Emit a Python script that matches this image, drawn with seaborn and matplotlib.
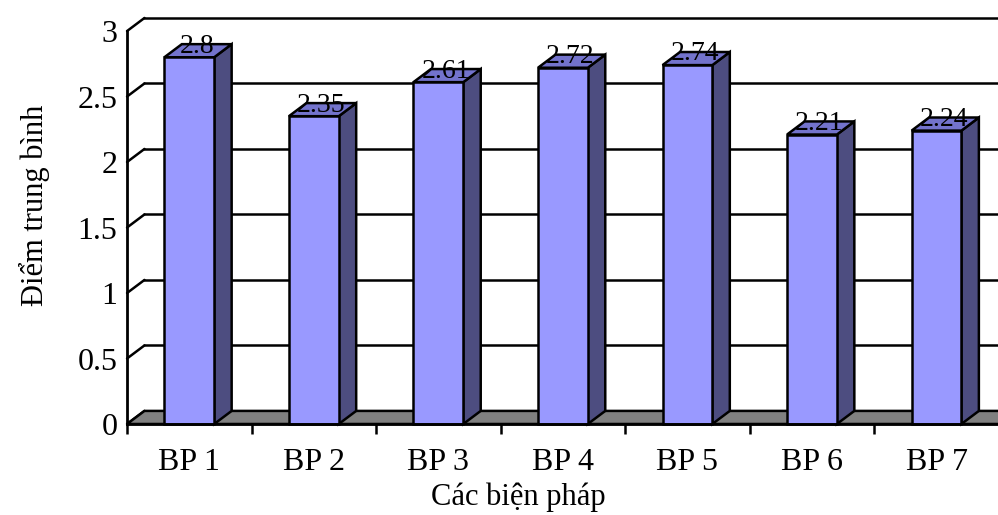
import matplotlib
matplotlib.use("Agg")
import matplotlib.pyplot as plt
from matplotlib.patches import Polygon
import seaborn as sns
import pandas as pd

categories = ["BP 1", "BP 2", "BP 3", "BP 4", "BP 5", "BP 6", "BP 7"]
values = [2.8, 2.35, 2.61, 2.72, 2.74, 2.21, 2.24]
y_ticks = [0, 0.5, 1, 1.5, 2, 2.5, 3]
y_tick_labels = ["0", "0.5", "1", "1.5", "2", "2.5", "3"]

sns.set_style("white")
plt.rcParams['font.family'] = ['Liberation Serif', 'DejaVu Serif']
plt.rcParams['text.color'] = 'black'
plt.rcParams['axes.labelcolor'] = 'black'
plt.rcParams['xtick.color'] = 'black'
plt.rcParams['ytick.color'] = 'black'

fig = plt.figure(figsize=(9.98, 5.15), dpi=100)
ax = fig.add_axes([0.1273, 0.1767, 0.8735, 0.763])

df = pd.DataFrame({"cat": categories, "val": values})

# depth offsets (data units)
dx = 0.14
dy = 0.1
bw = 0.4

ax.set_xlim(-0.5, 6.5)
ax.set_ylim(0, 3)

# back wall gridlines and side diagonals
x_left = -0.5
x_right = 7.2
for v in y_ticks:
    ax.plot([x_left + dx, x_right], [v + dy, v + dy], color='black', lw=1.8,
            clip_on=False, zorder=1)
    ax.plot([x_left, x_left + dx], [v, v + dy], color='black', lw=1.8,
            clip_on=False, zorder=1)

# floor
floor = Polygon([(x_left, 0), (x_left + dx, dy), (x_right, dy), (x_right, 0)],
                closed=True, facecolor='#808080', edgecolor='black', lw=1.8,
                clip_on=False, zorder=2)
ax.add_patch(floor)

sns.barplot(data=df, x="cat", y="val", color='#9999FF', edgecolor='black',
            linewidth=1.8, width=bw, saturation=1, ax=ax, zorder=4)
for p in ax.patches:
    if p is not floor:
        p.set_clip_on(False)

for i, v in enumerate(values):
    xl, xr = i - bw / 2, i + bw / 2
    side = Polygon([(xr, 0), (xr + dx, dy), (xr + dx, v + dy), (xr, v)],
                   closed=True, facecolor='#4D4D80', edgecolor='black', lw=1.8,
                   clip_on=False, zorder=3)
    top = Polygon([(xl, v), (xl + dx, v + dy), (xr + dx, v + dy), (xr, v)],
                  closed=True, facecolor='#7373CC', edgecolor='black', lw=1.8,
                  clip_on=False, zorder=3)
    ax.add_patch(side)
    ax.add_patch(top)
    ax.text(i + 0.06, v + 0.085, f"{v:g}", ha='center', va='center',
            fontsize=20, color='black', zorder=6, clip_on=False)

for s in ['top', 'right']:
    ax.spines[s].set_visible(False)
for s in ['left', 'bottom']:
    ax.spines[s].set_color('black')
    ax.spines[s].set_linewidth(2)
    ax.spines[s].set_zorder(5)

ax.set_yticks(y_ticks)
ax.set_yticklabels(y_tick_labels, fontsize=23)
ax.tick_params(axis='y', direction='out', length=5, width=1.8, color='black',
               labelcolor='black', pad=2)

ax.set_xticks(range(len(categories)))
ax.set_xticklabels(categories, fontsize=23)
ax.set_xticks([k - 0.5 for k in range(len(categories) + 1)], minor=True)
ax.tick_params(axis='x', which='major', length=0, pad=17, labelcolor='black')
ax.tick_params(axis='x', which='minor', direction='out', length=7, width=1.8,
               color='black', bottom=True)

ax.set_xlabel("Các biện pháp", fontsize=22, va='center', color='black')
ax.xaxis.set_label_coords(0.449, -0.186)
ax.set_ylabel("Điểm trung bình", fontsize=22, va='center', color='black')
ax.yaxis.set_label_coords(-0.1056, 0.557)
ax.grid(False)

fig.savefig("out.png", dpi=100)
